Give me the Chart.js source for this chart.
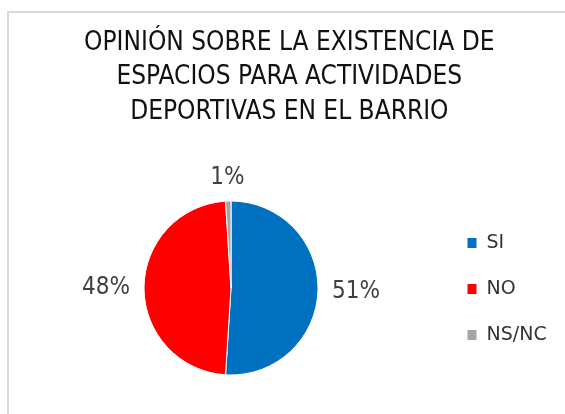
<!DOCTYPE html>
<html lang="es">
<head>
<meta charset="UTF-8">
<title>Opinión sobre espacios deportivos</title>
<style>
    html, body { margin: 0; padding: 0; background: #fff; }
    .wrap { position: relative; width: 565px; height: 414px; overflow: hidden; }
    .marco {
        position: absolute; left: 7px; top: 11px; width: 700px; height: 600px;
        border-left: 2px solid #d9d9d9; border-top: 2px solid #d9d9d9;
    }
    canvas { position: absolute; left: 0; top: 0; }
</style>
<script src="https://cdn.jsdelivr.net/npm/chart.js"></script>
</head>
<body>
<div class="wrap">
    <div class="marco"></div>
    <canvas id="grafico" width="565" height="414"></canvas>
</div>
<script>
    // datos
    const titulo = ['OPINIÓN SOBRE LA EXISTENCIA DE', 'ESPACIOS PARA ACTIVIDADES', 'DEPORTIVAS EN EL BARRIO'];
    const categorias = ['SI', 'NO', 'NS/NC'];
    const valores = [51, 48, 1];
    const colores = ['#0070C0', '#FF0000', '#A5A5A5'];

    const fuenteEstrecha = "'DejaVu Sans Condensed', 'Liberation Sans Narrow', sans-serif";
    const fuenteNormal = "'DejaVu Sans', 'Open Sans', sans-serif";

    // ancho de leyenda para dejar el centro del pastel en su sitio
    const tamLeyenda = 19;
    const cajaLeyenda = 10;
    const altoCaja = 11;
    const sepLeyenda = 27;
    const medida = document.createElement('canvas').getContext('2d');
    medida.font = tamLeyenda + 'px ' + fuenteNormal;
    const anchoTexto = Math.max(...categorias.map(c => medida.measureText(c).width));
    const anchoLeyenda = sepLeyenda + cajaLeyenda + tamLeyenda / 2 + anchoTexto + 10;
    const izqLeyenda = 440;
    const padDerecha = 565 - izqLeyenda - anchoLeyenda;

    // porcentajes fuera del pastel
    const etiquetas = {
        id: 'etiquetas',
        afterDatasetsDraw(chart) {
            const ctx = chart.ctx;
            const meta = chart.getDatasetMeta(0);
            const total = valores.reduce((a, b) => a + b, 0);
            ctx.save();
            ctx.font = '24px ' + fuenteEstrecha;
            ctx.fillStyle = '#404040';
            ctx.textAlign = 'center';
            ctx.textBaseline = 'middle';
            meta.data.forEach((arco, i) => {
                const p = arco.getProps(['x', 'y', 'startAngle', 'endAngle', 'outerRadius'], true);
                const medio = (p.startAngle + p.endAngle) / 2;
                const texto = Math.round(valores[i] / total * 100) + '%';
                const w = ctx.measureText(texto).width;
                const h = 18;
                const r = p.outerRadius + 14;
                const ax = p.x + Math.cos(medio) * r;
                const ay = p.y + Math.sin(medio) * r;
                ctx.fillText(texto, ax + Math.cos(medio) * w / 2, ay + Math.sin(medio) * h / 2);
            });
            ctx.restore();
        }
    };

    new Chart(document.getElementById('grafico'), {
        type: 'pie',
        data: {
            labels: categorias,
            datasets: [{
                data: valores,
                backgroundColor: colores,
                borderColor: '#ffffff',
                borderWidth: 1
            }]
        },
        options: {
            responsive: false,
            animation: false,
            radius: 87,
            layout: {
                padding: { top: 0, bottom: 42.5, left: 22, right: padDerecha }
            },
            plugins: {
                title: {
                    display: true,
                    text: titulo,
                    color: '#111111',
                    font: { family: fuenteEstrecha, size: 26, weight: 'normal', lineHeight: 1.327 },
                    padding: { top: 25.75, bottom: 75.25 }
                },
                legend: {
                    position: 'right',
                    align: 'end',
                    labels: {
                        boxWidth: cajaLeyenda,
                        boxHeight: altoCaja,
                        padding: sepLeyenda,
                        color: '#333333',
                        font: { family: fuenteNormal, size: tamLeyenda }
                    }
                },
                tooltip: { enabled: false }
            }
        },
        plugins: [etiquetas]
    });
</script>
</body>
</html>
